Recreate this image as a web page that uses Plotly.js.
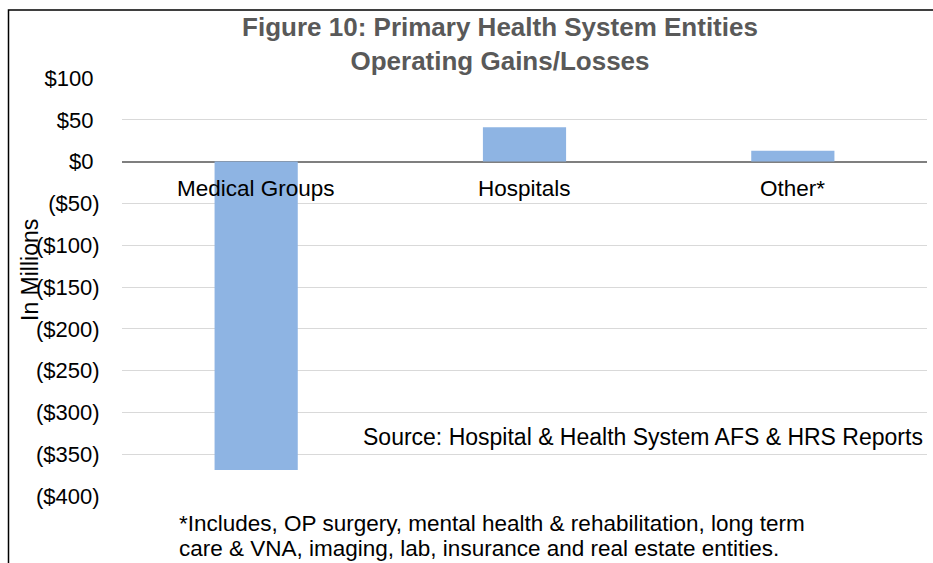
<!DOCTYPE html>
<html>
<head>
<meta charset="utf-8">
<script src="https://cdn.plot.ly/plotly-3.0.1.min.js"></script>
<style>html,body{margin:0;padding:0;background:#fff;}#chart{width:933px;height:563px;}</style>
</head>
<body>
<div id="chart"></div>
<script>
var categories = ["Medical Groups", "Hospitals", "Other*"];
var values = [-369, 41, 13];
var tickVals = [100, 50, 0, -50, -100, -150, -200, -250, -300, -350, -400];
var tickText = ["$100\u00a0", "$50\u00a0", "$0\u00a0", "($50)", "($100)", "($150)", "($200)", "($250)", "($300)", "($350)", "($400)"];
var titleText = "Figure 10: Primary Health System Entities<br>Operating Gains/Losses";
var yTitle = "In Millions";
var sourceText = "Source: Hospital & Health System AFS & HRS Reports";
var footLines = ["*Includes, OP surgery, mental health & rehabilitation, long term",
                 "care & VNA, imaging, lab, insurance and real estate entities."];

var font = "Liberation Sans, Arial, sans-serif";
var L = 122, R = 6, T = 78, B = 67;
var W = 933, H = 563;
var pw = W - L - R, ph = H - T - B;
function px(x){ return (x - L) / pw; }
function py(y){ return (H - B - y) / ph; }

var annotations = categories.map(function(c){
  return {x: c, y: 0, xref: 'x', yref: 'y', text: c, showarrow: false,
          yanchor: 'middle', yshift: -27, font: {family: font, size: 22.5, color: '#000'}};
});
annotations.push({x: px(30), y: py(270), xref: 'paper', yref: 'paper', text: yTitle,
  textangle: -90, showarrow: false, xanchor: 'center', yanchor: 'middle',
  font: {family: font, size: 23, color: '#000'}});
annotations.push({x: px(925), y: py(437), xref: 'paper', yref: 'paper', text: sourceText,
  showarrow: false, xanchor: 'right', yanchor: 'middle',
  font: {family: font, size: 23, color: '#000'}});
footLines.forEach(function(t, i){
  annotations.push({x: px(177), y: py(523 + i * 25), xref: 'paper', yref: 'paper', text: t,
    showarrow: false, xanchor: 'left', yanchor: 'middle',
    font: {family: font, size: 22.5, color: '#000'}});
});

var data = [{
  type: 'bar', x: categories, y: values,
  marker: {color: '#8EB4E3'}, hoverinfo: 'x+y'
}];

var layout = {
  width: W, height: H,
  margin: {l: L, r: R, t: T, b: B, pad: 0},
  paper_bgcolor: '#fff', plot_bgcolor: '#fff',
  showlegend: false,
  bargap: 0.69,
  title: {text: titleText, x: 500 / W, xanchor: 'center', xref: 'container',
          y: 1 - 36 / H, yanchor: 'middle', yref: 'container',
          font: {family: font, size: 26, color: '#595959', weight: 'bold'}},
  xaxis: {showticklabels: false, showgrid: false, zeroline: false, showline: false, ticks: '',
          fixedrange: true},
  yaxis: {range: [-400, 100], tickvals: tickVals, ticktext: tickText,
          showgrid: true, gridcolor: '#d9d9d9', gridwidth: 1,
          zeroline: true, zerolinecolor: '#7f7f7f', zerolinewidth: 2,
          showline: false, ticks: 'outside', ticklen: 17, tickcolor: 'rgba(0,0,0,0)',
          tickfont: {family: font, size: 22, color: '#000'}, fixedrange: true},
  annotations: annotations,
  shapes: [{type: 'rect', xref: 'paper', yref: 'paper',
            x0: px(8.5), x1: px(945), y0: py(580), y1: py(10),
            line: {color: '#000', width: 1.5}, fillcolor: 'rgba(0,0,0,0)', layer: 'below'}]
};

Plotly.newPlot('chart', data, layout, {displayModeBar: false, staticPlot: true});
</script>
</body>
</html>
